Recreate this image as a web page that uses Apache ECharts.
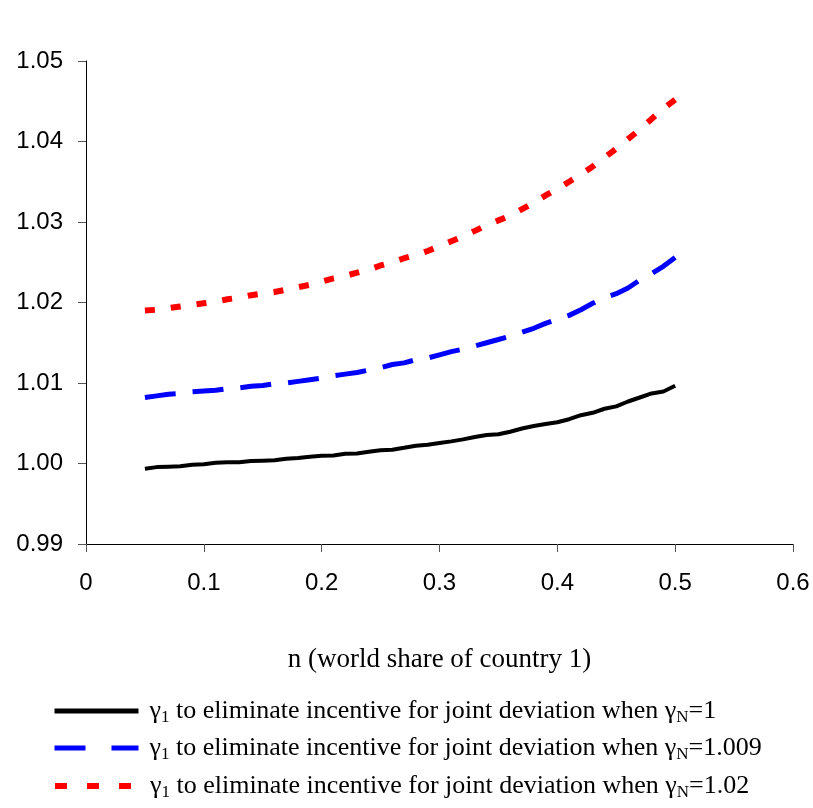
<!DOCTYPE html>
<html>
<head>
<meta charset="utf-8">
<script src="https://cdn.jsdelivr.net/npm/echarts@6/dist/echarts.min.js"></script>
<style>
html,body{margin:0;padding:0;background:#fff;}
#chart{width:813px;height:808px;}
</style>
</head>
<body>
<div id="chart"></div>
<script>
const nValues = [0.05,0.06,0.07,0.08,0.09,0.10,0.11,0.12,0.13,0.14,0.15,0.16,0.17,0.18,0.19,0.20,0.21,0.22,0.23,0.24,0.25,0.26,0.27,0.28,0.29,0.30,0.31,0.32,0.33,0.34,0.35,0.36,0.37,0.38,0.39,0.40,0.41,0.42,0.43,0.44,0.45,0.46,0.47,0.48,0.49,0.50];
const gammaN1 = [0.99935,0.99955,0.99960,0.99965,0.99985,0.99990,1.00010,1.00015,1.00015,1.00030,1.00035,1.00040,1.00060,1.00068,1.00085,1.00095,1.00100,1.00120,1.00125,1.00145,1.00165,1.00172,1.00195,1.00220,1.00232,1.00255,1.00275,1.00300,1.00330,1.00355,1.00363,1.00395,1.00435,1.00465,1.00490,1.00512,1.00550,1.00600,1.00630,1.00680,1.00710,1.00770,1.00820,1.00870,1.00895,1.00965];
const gammaN1009 = [1.0082,1.0084,1.0086,1.0087,1.0089,1.0090,1.0091,1.0093,1.0094,1.0096,1.0097,1.0099,1.0100,1.0102,1.0104,1.0106,1.0109,1.0111,1.0113,1.0116,1.0119,1.0123,1.0125,1.0129,1.0131,1.0135,1.0139,1.0142,1.0146,1.0150,1.0154,1.0158,1.0163,1.0168,1.0174,1.0179,1.0184,1.0191,1.0199,1.0206,1.0211,1.0218,1.0228,1.0236,1.0245,1.0256];
const gammaN102 = [1.0190,1.0191,1.0193,1.0195,1.0197,1.0199,1.0201,1.0204,1.0206,1.0209,1.0211,1.0213,1.0216,1.0219,1.0222,1.0226,1.0230,1.0233,1.0237,1.0241,1.0246,1.0250,1.0255,1.0259,1.0264,1.0270,1.0276,1.0282,1.0289,1.0296,1.0302,1.0308,1.0316,1.0324,1.0333,1.0341,1.0350,1.0359,1.0369,1.0380,1.0391,1.0403,1.0415,1.0428,1.0441,1.0452];
const seriesNames = ['γN=1', 'γN=1.009', 'γN=1.02'];
const gammaNLabels = ['1', '1.009', '1.02'];
const xAxisTitle = 'n (world share of country 1)';

const pairs = arr => nValues.map((n, i) => [n, arr[i]]);

const chart = echarts.init(document.getElementById('chart'), null, {renderer: 'canvas'});

const legendRich = {
  a: {fontFamily: 'Liberation Serif', fontSize: 26, color: '#000', lineHeight: 30},
  s: {fontFamily: 'Liberation Serif', fontSize: 17, color: '#000', lineHeight: 15, verticalAlign: 'bottom'}
};
function legendText(name) {
  const idx = seriesNames.indexOf(name);
  return '{a|γ}{s|1}{a| to eliminate incentive for joint deviation when γ}{s|N}{a|=' + gammaNLabels[idx] + '}';
}
const legendLines = [
  {color: '#000', width: 5, type: 'solid'},
  {color: '#0000ff', width: 5, type: [31, 26]},
  {color: '#ff0000', width: 6, type: [12, 20]}
];
function makeLegend(i, top) {
  return {
    data: [seriesNames[i]],
    left: 52, top: top, padding: 0,
    itemWidth: 84, itemHeight: 14, itemGap: 0,
    formatter: legendText,
    lineStyle: legendLines[i],
    itemStyle: {opacity: 0, color: 'rgba(0,0,0,0)', borderWidth: 0},
    textStyle: {rich: legendRich, padding: [0, 0, 0, 6]},
    selectedMode: false
  };
}

chart.setOption({
  backgroundColor: '#fff',
  animation: false,
  grid: {left: 86, right: 20, top: 61, bottom: 264, containLabel: false},
  legend: [makeLegend(0, 698), makeLegend(1, 735), makeLegend(2, 773)],
  xAxis: {
    type: 'value', min: 0, max: 0.6, interval: 0.1,
    name: xAxisTitle, nameLocation: 'middle', nameGap: 102,
    nameTextStyle: {fontFamily: 'Liberation Serif', fontSize: 27, color: '#000'},
    axisLine: {show: true, onZero: false, lineStyle: {color: '#000', width: 1}},
    axisTick: {show: true, length: 8, lineStyle: {color: '#555'}},
    splitLine: {show: false},
    axisLabel: {fontFamily: 'Liberation Sans', fontSize: 24, color: '#000', margin: 27,
      formatter: v => (Math.abs(v) < 1e-9 ? '0' : v.toFixed(1))}
  },
  yAxis: {
    type: 'value', min: 0.99, max: 1.05, interval: 0.01,
    axisLine: {show: true, lineStyle: {color: '#000', width: 1}},
    axisTick: {show: true, length: 8, lineStyle: {color: '#555'}},
    splitLine: {show: false},
    axisLabel: {fontFamily: 'Liberation Sans', fontSize: 24, color: '#000', margin: 23,
      formatter: v => v.toFixed(2)}
  },
  series: [
    {name: seriesNames[0], type: 'line', data: pairs(gammaN1), symbol: 'none', smooth: false,
     lineStyle: {color: '#000', width: 4, type: 'solid'}, itemStyle: {color: '#000'}},
    {name: seriesNames[1], type: 'line', data: pairs(gammaN1009), symbol: 'none', smooth: false,
     lineStyle: {color: '#0000ff', width: 5, type: [31, 17]}, itemStyle: {color: '#0000ff'}},
    {name: seriesNames[2], type: 'line', data: pairs(gammaN102), symbol: 'none', smooth: false,
     lineStyle: {color: '#ff0000', width: 6, type: [10, 16]}, itemStyle: {color: '#ff0000'}}
  ]
});
</script>
</body>
</html>
